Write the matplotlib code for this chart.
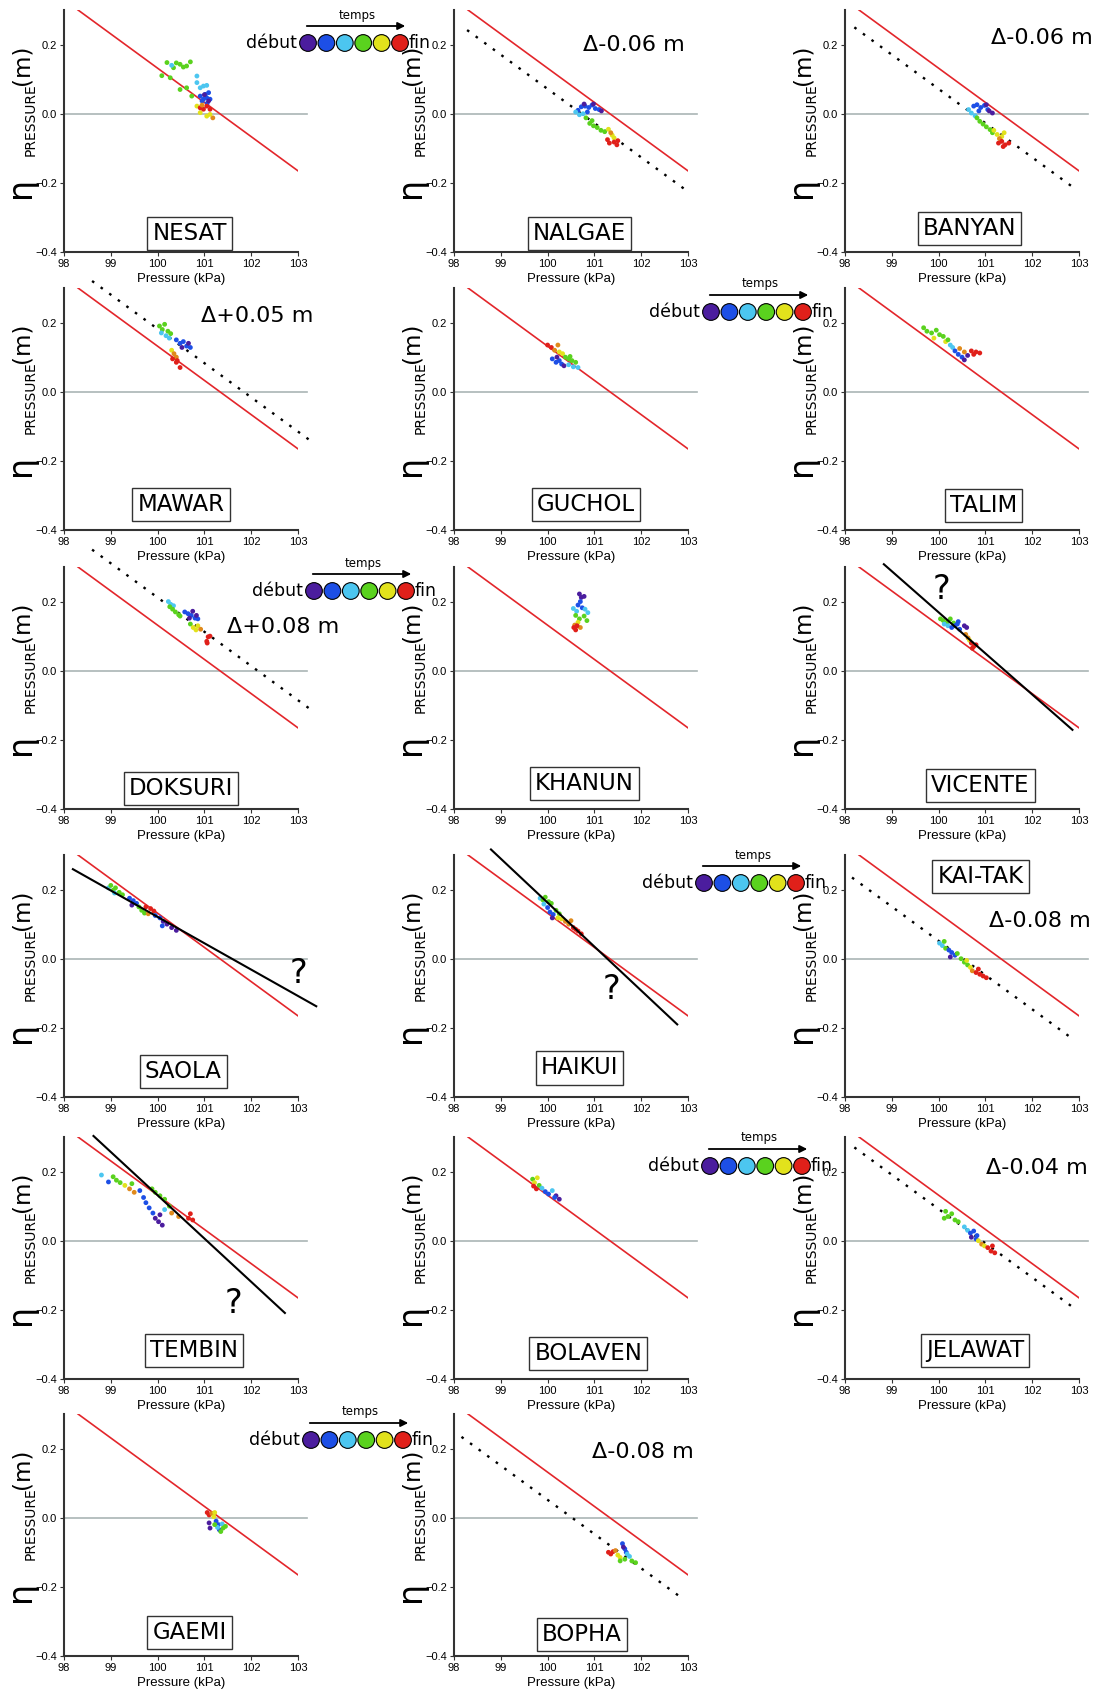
import numpy as np
import matplotlib.pyplot as plt

# ---------------------------------------------------------------- data
# inverse barometer line: eta = IB_SLOPE * (P - IB_P0)
IB_SLOPE = -0.099
IB_P0 = 101.33

STORMS = ['NESAT', 'NALGAE', 'BANYAN', 'MAWAR', 'GUCHOL', 'TALIM',
          'DOKSURI', 'KHANUN', 'VICENTE', 'SAOLA', 'HAIKUI', 'KAI-TAK',
          'TEMBIN', 'BOLAVEN', 'JELAWAT', 'GAEMI', 'BOPHA']

# scatter colour classes: 0 purple .. 6 red (time order)
SCATTER_COLORS = ['#4b1d9e', '#1d4fe6', '#4cc6f0', '#5ad21e', '#e2e21c', '#e08a1c', '#e0201a']
LEGEND_COLORS = ['#4b1d9e', '#1d4fe6', '#4cc6f0', '#5ad21e', '#e2e21c', '#e0201a']

# (pressure kPa, eta m, colour class)
nesat = [(100.09, 0.110, 3), (100.20, 0.148, 3), (100.27, 0.104, 3), (100.34, 0.133, 3), (100.40, 0.147, 3),
         (100.48, 0.143, 3), (100.55, 0.135, 3), (100.62, 0.138, 3), (100.70, 0.150, 3), (100.48, 0.070, 3),
         (100.62, 0.075, 3), (100.73, 0.051, 3), (100.30, 0.140, 2), (100.84, 0.109, 2), (100.84, 0.090, 2),
         (100.91, 0.075, 2), (100.98, 0.080, 2), (101.05, 0.082, 2), (100.91, 0.051, 1), (100.98, 0.042, 1),
         (101.05, 0.046, 1), (101.09, 0.061, 1), (101.02, 0.056, 1), (101.12, 0.042, 1), (100.95, 0.037, 1),
         (101.06, 0.030, 1), (101.09, 0.037, 0), (101.00, 0.055, 0), (100.84, 0.022, 4), (100.91, 0.003, 4),
         (101.05, -0.007, 4), (101.18, -0.012, 5), (101.12, -0.002, 4), (100.91, 0.017, 6), (100.98, 0.013, 6),
         (101.05, 0.022, 6), (101.12, 0.013, 6), (100.95, 0.025, 5)]
nalgae = [(100.65, 0.010, 1), (100.72, 0.020, 1), (100.80, 0.022, 1), (100.88, 0.018, 1), (100.95, 0.025, 1),
          (101.02, 0.015, 1), (101.10, 0.012, 1), (100.85, 0.005, 1), (100.78, 0.028, 0), (100.98, 0.028, 0),
          (101.15, 0.008, 0), (100.60, 0.005, 2), (100.68, -0.003, 2), (100.76, 0.000, 2), (100.82, -0.012, 3),
          (100.90, -0.028, 3), (100.98, -0.035, 3), (101.06, -0.040, 3), (101.14, -0.048, 3), (101.22, -0.052, 3),
          (100.95, -0.020, 3), (101.30, -0.045, 4), (101.38, -0.062, 4), (101.42, -0.070, 4), (101.35, -0.055, 5),
          (101.28, -0.075, 6), (101.32, -0.085, 6), (101.42, -0.082, 6), (101.48, -0.090, 6), (101.50, -0.078, 6)]
banyan = [(100.75, 0.022, 1), (100.82, 0.026, 1), (100.90, 0.018, 1), (100.98, 0.024, 1), (101.05, 0.012, 1),
          (100.86, 0.008, 1), (101.08, 0.008, 0), (101.15, 0.002, 0), (101.02, 0.026, 0), (100.64, 0.012, 2),
          (100.70, 0.002, 2), (100.78, -0.006, 2), (100.82, -0.012, 3), (100.88, -0.022, 3), (100.95, -0.030, 3),
          (101.02, -0.038, 3), (101.10, -0.046, 3), (101.15, -0.055, 3), (101.18, -0.048, 4), (101.25, -0.060, 4),
          (101.35, -0.066, 4), (101.40, -0.055, 4), (101.30, -0.072, 5), (101.28, -0.085, 6), (101.35, -0.080, 6),
          (101.42, -0.090, 6), (101.50, -0.085, 6), (101.38, -0.095, 6)]
mawar = [(100.04, 0.190, 3), (100.10, 0.180, 3), (100.15, 0.195, 3), (100.22, 0.175, 3), (100.28, 0.168, 3),
         (100.08, 0.170, 2), (100.18, 0.162, 2), (100.25, 0.155, 2), (100.40, 0.150, 1), (100.48, 0.140, 1),
         (100.55, 0.145, 1), (100.62, 0.132, 1), (100.70, 0.128, 1), (100.52, 0.128, 0), (100.66, 0.140, 0),
         (100.30, 0.120, 4), (100.35, 0.110, 5), (100.40, 0.100, 5), (100.32, 0.095, 6), (100.40, 0.085, 6),
         (100.48, 0.070, 6), (100.42, 0.090, 6)]
guchol = [(100.00, 0.135, 6), (100.08, 0.128, 6), (100.15, 0.120, 5), (100.22, 0.135, 5), (100.25, 0.115, 4),
          (100.32, 0.110, 4), (100.38, 0.100, 3), (100.45, 0.095, 3), (100.52, 0.090, 3), (100.60, 0.085, 3),
          (100.48, 0.102, 3), (100.10, 0.095, 1), (100.18, 0.085, 1), (100.25, 0.090, 1), (100.30, 0.080, 1),
          (100.20, 0.100, 0), (100.35, 0.075, 0), (100.45, 0.078, 2), (100.55, 0.072, 2), (100.65, 0.070, 2)]
talim = [(99.68, 0.185, 3), (99.75, 0.175, 3), (99.85, 0.170, 3), (99.95, 0.178, 3), (100.02, 0.165, 3),
         (100.10, 0.160, 3), (99.90, 0.155, 4), (100.15, 0.145, 4), (100.20, 0.150, 3), (100.25, 0.135, 2),
         (100.30, 0.128, 2), (100.35, 0.118, 1), (100.42, 0.108, 1), (100.50, 0.100, 1), (100.55, 0.092, 0),
         (100.62, 0.105, 0), (100.45, 0.125, 5), (100.55, 0.115, 5), (100.70, 0.118, 6), (100.80, 0.115, 6),
         (100.88, 0.112, 6), (100.75, 0.108, 6)]
doksuri = [(100.23, 0.200, 2), (100.28, 0.192, 2), (100.34, 0.188, 2), (100.26, 0.185, 3), (100.32, 0.178, 3),
           (100.38, 0.170, 3), (100.45, 0.162, 3), (100.48, 0.158, 3), (100.58, 0.170, 1), (100.65, 0.165, 1),
           (100.72, 0.160, 1), (100.80, 0.152, 1), (100.86, 0.150, 1), (100.68, 0.152, 0), (100.75, 0.172, 0),
           (100.83, 0.160, 0), (100.70, 0.135, 3), (100.76, 0.125, 4), (100.82, 0.118, 4), (100.86, 0.130, 4),
           (100.92, 0.120, 5), (101.05, 0.085, 6), (101.08, 0.098, 6), (101.12, 0.100, 6), (101.06, 0.080, 6)]
khanun = [(100.68, 0.222, 0), (100.72, 0.212, 0), (100.78, 0.215, 0), (100.70, 0.200, 1), (100.65, 0.190, 1),
          (100.74, 0.182, 1), (100.55, 0.180, 2), (100.62, 0.172, 2), (100.80, 0.178, 2), (100.86, 0.168, 2),
          (100.60, 0.160, 3), (100.68, 0.150, 3), (100.78, 0.158, 3), (100.84, 0.145, 3), (100.65, 0.140, 4),
          (100.58, 0.132, 5), (100.70, 0.125, 5), (100.56, 0.125, 6), (100.60, 0.118, 6), (100.63, 0.130, 6)]
vicente = [(100.04, 0.150, 3), (100.10, 0.145, 3), (100.18, 0.140, 3), (100.25, 0.150, 3), (100.32, 0.138, 3),
           (100.12, 0.135, 2), (100.20, 0.130, 2), (100.28, 0.125, 1), (100.35, 0.130, 1), (100.40, 0.135, 1),
           (100.45, 0.120, 1), (100.42, 0.142, 1), (100.55, 0.130, 0), (100.60, 0.125, 0), (100.58, 0.105, 5),
           (100.63, 0.095, 5), (100.66, 0.088, 4), (100.70, 0.080, 6), (100.75, 0.070, 6), (100.80, 0.075, 6),
           (100.72, 0.065, 6)]
saola = [(98.95, 0.205, 2), (99.00, 0.212, 3), (99.05, 0.198, 3), (99.10, 0.205, 3), (99.18, 0.192, 3),
         (99.25, 0.185, 3), (99.08, 0.190, 2), (99.40, 0.175, 1), (99.48, 0.168, 1), (99.55, 0.160, 1),
         (99.45, 0.155, 0), (99.60, 0.150, 3), (99.66, 0.140, 3), (99.72, 0.132, 3), (99.75, 0.150, 6),
         (99.85, 0.145, 6), (99.92, 0.138, 6), (99.80, 0.130, 5), (99.95, 0.125, 1), (100.05, 0.118, 1),
         (100.12, 0.108, 0), (100.20, 0.100, 0), (100.30, 0.090, 0), (100.40, 0.082, 0), (100.10, 0.095, 1)]
haikui = [(99.84, 0.175, 2), (99.90, 0.170, 3), (99.95, 0.178, 3), (100.02, 0.165, 3), (100.08, 0.160, 3),
          (99.92, 0.158, 2), (100.00, 0.148, 1), (100.05, 0.135, 1), (100.12, 0.128, 1), (100.18, 0.140, 3),
          (100.25, 0.130, 3), (100.22, 0.118, 4), (100.30, 0.115, 4), (100.38, 0.108, 5), (100.45, 0.100, 5),
          (100.50, 0.110, 5), (100.55, 0.090, 6), (100.65, 0.080, 6), (100.72, 0.072, 6), (100.60, 0.085, 6),
          (100.10, 0.118, 0)]
kaitak = [(100.02, 0.045, 2), (100.08, 0.038, 2), (100.12, 0.050, 3), (100.15, 0.030, 3), (100.22, 0.025, 1),
          (100.28, 0.018, 1), (100.35, 0.010, 1), (100.25, 0.005, 0), (100.40, 0.015, 3), (100.48, 0.000, 3),
          (100.55, -0.010, 3), (100.62, -0.018, 3), (100.60, -0.005, 4), (100.68, -0.025, 4), (100.72, -0.035, 5),
          (100.80, -0.040, 6), (100.88, -0.045, 6), (100.95, -0.050, 6), (101.02, -0.055, 6), (100.85, -0.030, 6)]
tembin = [(98.80, 0.190, 2), (98.95, 0.170, 1), (99.05, 0.185, 3), (99.12, 0.175, 3), (99.20, 0.168, 3),
          (99.30, 0.160, 4), (99.40, 0.150, 5), (99.45, 0.165, 3), (99.50, 0.140, 5), (99.62, 0.145, 1),
          (99.70, 0.125, 1), (99.75, 0.110, 1), (99.82, 0.095, 1), (99.90, 0.080, 1), (99.95, 0.065, 0),
          (100.02, 0.055, 0), (100.10, 0.045, 0), (100.05, 0.075, 0), (99.88, 0.150, 3), (99.95, 0.140, 3),
          (100.05, 0.130, 3), (100.15, 0.120, 3), (100.25, 0.100, 3), (100.15, 0.090, 2), (100.30, 0.080, 5),
          (100.45, 0.070, 5), (100.66, 0.065, 6), (100.70, 0.078, 6), (100.75, 0.060, 6)]
bolaven = [(99.68, 0.178, 3), (99.72, 0.168, 4), (99.78, 0.182, 4), (99.70, 0.158, 6), (99.76, 0.150, 6),
           (99.82, 0.160, 3), (99.88, 0.152, 2), (99.95, 0.142, 1), (100.02, 0.135, 1), (100.10, 0.145, 2),
           (100.18, 0.130, 0), (100.25, 0.120, 0), (100.15, 0.125, 1)]
jelawat = [(100.15, 0.085, 3), (100.20, 0.070, 3), (100.28, 0.078, 3), (100.35, 0.060, 3), (100.42, 0.055, 3),
           (100.12, 0.065, 3), (100.55, 0.040, 2), (100.62, 0.030, 2), (100.68, 0.022, 1), (100.75, 0.028, 1),
           (100.82, 0.015, 1), (100.70, 0.010, 0), (100.80, 0.005, 1), (100.85, 0.000, 4), (100.92, -0.010, 5),
           (100.98, -0.015, 4), (101.05, -0.020, 6), (101.12, -0.030, 6), (101.20, -0.035, 6), (101.15, -0.015, 6)]
gaemi = [(101.06, 0.015, 6), (101.10, 0.008, 6), (101.16, 0.012, 5), (101.22, 0.015, 4), (101.20, 0.003, 4),
         (101.10, -0.015, 0), (101.12, -0.030, 0), (101.25, -0.010, 1), (101.30, -0.020, 1), (101.32, -0.035, 1),
         (101.28, -0.028, 2), (101.38, -0.018, 2), (101.40, -0.030, 3), (101.45, -0.025, 3), (101.35, -0.040, 3),
         (101.22, -0.020, 3)]
bopha = [(101.30, -0.100, 6), (101.35, -0.105, 6), (101.40, -0.098, 6), (101.45, -0.095, 5), (101.50, -0.108, 4),
         (101.55, -0.115, 4), (101.60, -0.075, 1), (101.65, -0.090, 1), (101.68, -0.100, 1), (101.62, -0.085, 0),
         (101.70, -0.105, 2), (101.75, -0.112, 2), (101.55, -0.125, 3), (101.65, -0.120, 3), (101.80, -0.125, 3),
         (101.88, -0.130, 3)]

POINTS = [nesat, nalgae, banyan, mawar, guchol, talim, doksuri, khanun, vicente,
          saola, haikui, kaitak, tembin, bolaven, jelawat, gaemi, bopha]

# shifted inverse-barometer line (dotted): storm -> (offset m, P start, P end)
DELTA = {'NALGAE': (-0.06, 98.28, 102.93), 'BANYAN': (-0.06, 98.2, 102.95),
         'MAWAR': (0.05, 98.6, 103.3), 'DOKSURI': (0.08, 98.6, 103.3),
         'KAI-TAK': (-0.08, 98.15, 102.9), 'JELAWAT': (-0.04, 98.2, 102.95),
         'BOPHA': (-0.08, 98.16, 102.85)}

# fitted regression lines (solid black): storm -> (P0, eta0, P1, eta1)
FIT = {'VICENTE': (98.83, 0.308, 102.86, -0.171),
       'SAOLA': (98.19, 0.259, 103.39, -0.1375),
       'HAIKUI': (98.79, 0.316, 102.77, -0.19),
       'TEMBIN': (98.63, 0.303, 102.72, -0.209)}
QMARK = {'VICENTE': (100.07, 0.234), 'SAOLA': (103.0, -0.044),
         'HAIKUI': (101.36, -0.09), 'TEMBIN': (101.63, -0.181)}

# ---------------------------------------------------------------- layout
W, H = 1106, 1692
COL_X = [64, 454, 845]
ROW_Y = [10, 288, 567, 855, 1137, 1414]
AX_W, AX_H = 234, 242

NAME_POS = [(0.537, 0.076), (0.537, 0.076), (0.532, 0.098), (0.50, 0.107), (0.565, 0.107), (0.593, 0.103),
            (0.50, 0.085), (0.556, 0.107), (0.579, 0.098), (0.509, 0.107), (0.537, 0.12), (0.579, 0.91),
            (0.556, 0.116), (0.574, 0.107), (0.556, 0.116), (0.537, 0.098), (0.546, 0.089)]
DELTA_POS = {'NALGAE': (0.769, 0.857), 'BANYAN': (0.843, 0.884), 'MAWAR': (0.824, 0.884),
             'DOKSURI': (0.935, 0.754), 'KAI-TAK': (0.833, 0.728), 'JELAWAT': (0.819, 0.87),
             'BOPHA': (0.806, 0.844)}
LEGEND_XY = [(357, 15), (760, 284), (363, 563), (753, 855), (759, 1138), (360, 1412)]

TICK_FONT = 'Liberation Sans'

fig = plt.figure(figsize=(W / 100, H / 100), dpi=100)

for i, name in enumerate(STORMS):
    r, c = divmod(i, 3)
    ax = fig.add_axes([COL_X[c] / W, 1 - (ROW_Y[r] + AX_H) / H, AX_W / W, AX_H / H])
    ax.set_xlim(98, 103)
    ax.set_ylim(-0.4, 0.3)

    ax.plot([98, 103.2], [0, 0], color='#aab5b5', lw=1.2, zorder=1, clip_on=False)
    px = np.array([98.3, 103.0])
    ax.plot(px, IB_SLOPE * (px - IB_P0), color='#e3262b', lw=1.2, zorder=2)

    if name in DELTA:
        d, p0, p1 = DELTA[name]
        px = np.array([p0, p1])
        ax.plot(px, IB_SLOPE * (px - IB_P0) + d, color='black', lw=1.7,
                linestyle=(0, (1.1, 3.4)), zorder=2, clip_on=False)
        ax.text(*DELTA_POS[name], f'\u0394{d:+.2f} m', transform=ax.transAxes,
                fontsize=16, ha='center', va='center')
    if name in FIT:
        p0, e0, p1, e1 = FIT[name]
        ax.plot([p0, p1], [e0, e1], color='black', lw=1.5, zorder=4, clip_on=False)
        ax.text(*QMARK[name], '?', fontsize=24, ha='center', va='center')

    pts = np.array(POINTS[i])
    ax.scatter(pts[:, 0], pts[:, 1], s=12, c=[SCATTER_COLORS[int(k)] for k in pts[:, 2]],
               linewidths=0, zorder=3)

    ax.text(*NAME_POS[i], name, transform=ax.transAxes, fontsize=16.5, ha='center', va='center',
            bbox=dict(boxstyle='square,pad=0.22', facecolor='white', edgecolor='#333333', lw=1.0), zorder=5)

    ax.set_xticks(range(98, 104))
    ax.set_yticks([-0.4, -0.2, 0.0, 0.2])
    ax.yaxis.set_major_formatter('{x:.1f}')
    ax.tick_params(labelsize=8, length=3, width=0.8, color='#333333', pad=2)
    for lab in ax.get_xticklabels() + ax.get_yticklabels():
        lab.set_fontfamily(TICK_FONT)
    for s in ['top', 'right']:
        ax.spines[s].set_visible(False)
    for s in ['left', 'bottom']:
        ax.spines[s].set_linewidth(1.5)
        ax.spines[s].set_color('#333333')
    ax.set_xlabel('Pressure (kPa)', fontsize=9.5, fontfamily=TICK_FONT, labelpad=3)

    # y label: big eta, subscript PRESSURE, (m)
    ax.text(-0.188, 0.265, '\u03b7', rotation=90, fontsize=24, transform=ax.transAxes,
            ha='center', va='center')
    ax.text(-0.143, 0.545, 'PRESSURE', rotation=90, fontsize=10, transform=ax.transAxes,
            ha='center', va='center')
    ax.text(-0.18, 0.775, '(m)', rotation=90, fontsize=16.5, transform=ax.transAxes,
            ha='center', va='center')

# time legends drawn on a transparent overlay in pixel units
ov = fig.add_axes([0, 0, 1, 1], zorder=10)
ov.set_xlim(0, W)
ov.set_ylim(H, 0)
ov.axis('off')
for tx, ty in LEGEND_XY:
    cx0, cy = tx - 49, ty + 28
    ov.text(tx, ty, 'temps', fontsize=8.5, ha='center', va='center')
    ov.annotate('', xy=(cx0 + 100, cy - 17), xytext=(cx0 - 4, cy - 17),
                arrowprops=dict(arrowstyle='-|>', color='black', lw=1.3, mutation_scale=11))
    ov.scatter(cx0 + 18.4 * np.arange(6), np.full(6, cy), s=145, c=LEGEND_COLORS,
               edgecolors='black', linewidths=0.8)
    ov.text(cx0 - 11, cy, 'début', fontsize=12.5, ha='right', va='center')
    ov.text(cx0 + 101, cy, 'fin', fontsize=12.5, ha='left', va='center')

fig.savefig('out.png', dpi=100)
